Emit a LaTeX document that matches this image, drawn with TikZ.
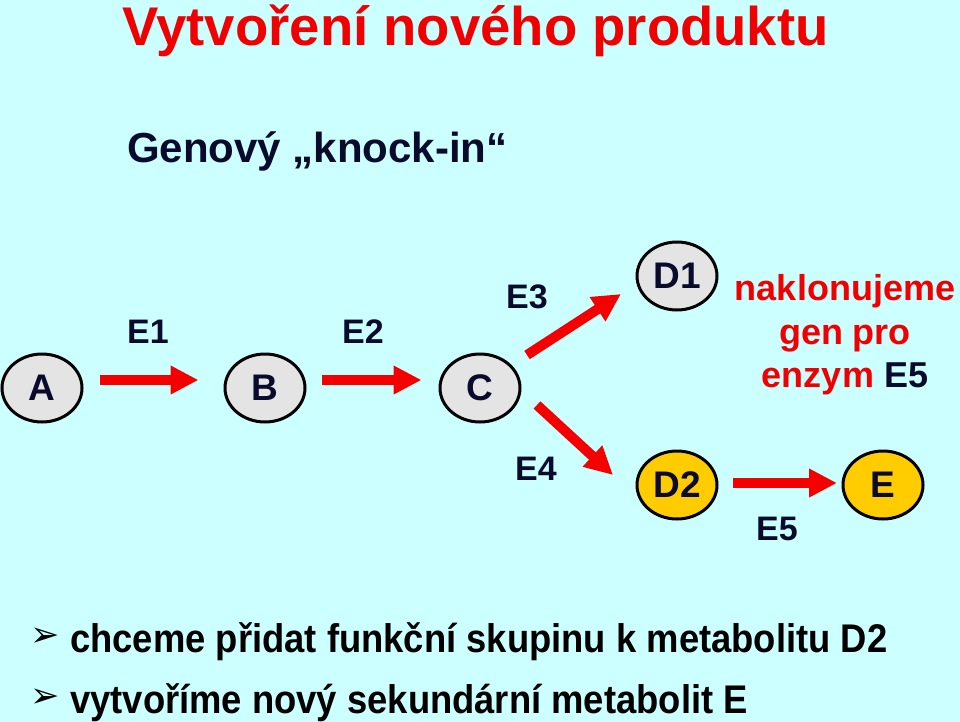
\documentclass[tikz,border=0pt]{standalone}
\usepackage{fontspec}
\setmainfont{Liberation Sans}
\newfontfamily\narrowfont[FakeStretch=0.91]{Liberation Sans}
\newfontfamily\symfont{DejaVu Sans}
\usetikzlibrary{shapes.geometric,arrows.meta}
\definecolor{bgc}{RGB}{204,255,255}
\definecolor{navy}{RGB}{10,10,45}
\definecolor{tred}{RGB}{240,0,0}
\definecolor{ared}{RGB}{245,0,0}
\definecolor{ngray}{RGB}{228,228,228}
\definecolor{nyel}{RGB}{255,204,0}
\tikzset{
  metab/.style={ellipse, draw=black, line width=3pt, minimum width=80pt, minimum height=68pt, inner sep=0pt, fill=ngray, text=navy, font=\fontsize{37}{37}\selectfont\bfseries},
  metaby/.style={metab, fill=nyel},
  enz/.style={anchor=base, inner sep=0pt, text=navy, font=\fontsize{34}{34}\selectfont\bfseries},
  arr/.style={draw=ared, line width=10pt, -{Triangle[length=28pt,width=27pt]}},
  bul/.style={anchor=base west, inner sep=0pt, text=black, font=\narrowfont\fontsize{40}{40}\selectfont\bfseries},
  bulsym/.style={anchor=center, inner sep=0pt, text=black, font=\symfont\fontsize{35}{35}\selectfont},
}
\begin{document}
\begin{tikzpicture}[x=1pt,y=-1pt]
\fill[bgc] (0,0) rectangle (960,722);
\useasboundingbox (0,0) rectangle (960,722);
% titles
\node[anchor=base west, inner sep=0pt, text=tred, font=\fontsize{54.5}{54.5}\selectfont\bfseries] (title) at (122,46) {Vytvoření nového produktu};
\node[anchor=base west, inner sep=0pt, text=navy, font=\fontsize{42}{42}\selectfont\bfseries] (sub) at (127,163) {Genový „knock-in“};
% metabolites
\node[metab] (A) at (42,388) {A};
\node[metab] (B) at (265,388) {B};
\node[metab] (C) at (480,388) {C};
\node[metab] (D1) at (677,276) {D1};
\node[metaby] (D2) at (677,485) {D2};
\node[metaby] (E) at (883,485) {E};
% enzymes
\node[enz] (e1) at (148,343) {E1};
\node[enz] (e2) at (363,343) {E2};
\node[enz] (e3) at (527,308) {E3};
\node[enz] (e4) at (536,480) {E4};
\node[enz] (e5) at (777,540) {E5};
% arrows
\draw[arr] ([shift={(16,-8)}]A.east) -- ([shift={(-25,-8)}]B.west);
\draw[arr] ([shift={(15,-8)}]B.east) -- ([shift={(-17,-8)}]C.west);
\draw[arr] ([shift={(47,-33)}]C.center) -- ([shift={(-56,18)}]D1.center);
\draw[arr] ([shift={(57,17)}]C.center) -- ([shift={(-64,-10)}]D2.center);
\draw[arr] ([shift={(56,-2)}]D2.center) -- ([shift={(-46,-2)}]E.center);
% note
\node[anchor=base, inner sep=0pt, text=tred, font=\fontsize{36}{36}\selectfont\bfseries] (n1) at (845,300) {naklonujeme};
\node[anchor=base, inner sep=0pt, text=tred, font=\fontsize{36}{36}\selectfont\bfseries] (n2) at (845,344) {gen pro};
\node[anchor=base, inner sep=0pt, text=tred, font=\fontsize{36}{36}\selectfont\bfseries] (n3) at (845,387) {enzym \textcolor{navy}{E5}};
% bullets
\node[bulsym] (s1) at (45,637) {➢};
\node[bul] (b1) at (70,652) {chceme přidat funkční skupinu k metabolitu D2};
\node[bulsym] (s2) at (45,698) {➢};
\node[bul] (b2) at (70,713) {vytvoříme nový sekundární metabolit E};
\end{tikzpicture}
\end{document}
